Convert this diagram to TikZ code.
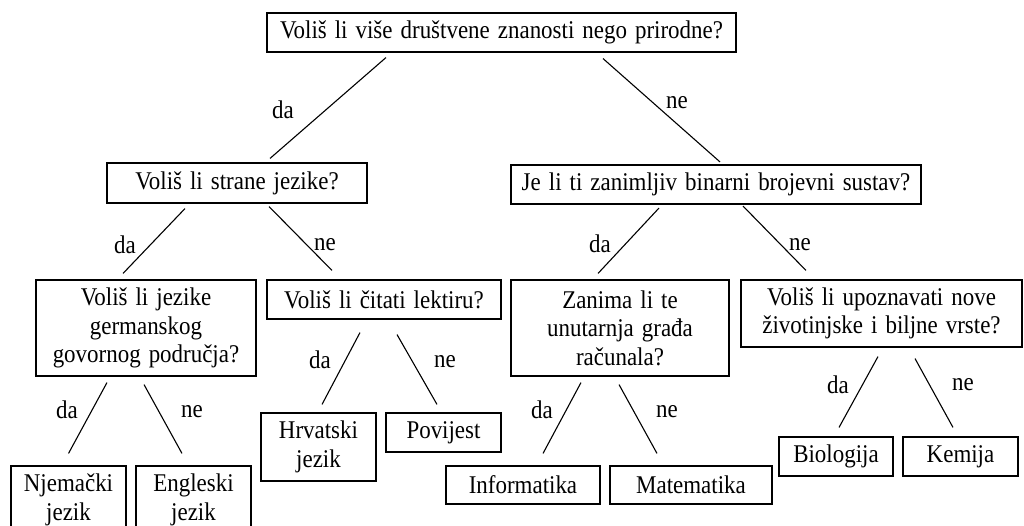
\documentclass[tikz,border=0pt]{standalone}
\usepackage{fontspec}
\setmainfont{Liberation Serif}[FakeStretch=0.9,WordSpace=1.4]
\newcommand{\fsz}{\fontsize{25.5}{28.5}\selectfont}
\begin{document}
\begin{tikzpicture}[x=1pt,y=-1pt,
  qbox/.style={draw, line width=1.1pt, inner sep=0pt, align=center, font=\fsz},
  lbl/.style={inner sep=0pt, font=\fsz},
  conn/.style={line width=1.1pt}]
\useasboundingbox (0,0) rectangle (1024,526);
\fill[white] (0,0) rectangle (1024,526);
\begin{scope}
\clip (0,0) rectangle (1024,526);
% question boxes
\node[qbox, minimum width=469pt, minimum height=39pt] (top) at (501.5,32.5) {Voliš li više društvene znanosti nego prirodne?};
\node[qbox, minimum width=260pt, minimum height=40pt] (strane) at (237,183) {Voliš li strane jezike?};
\node[qbox, minimum width=410pt, minimum height=39pt] (binarni) at (716,184.5) {Je li ti zanimljiv binarni brojevni sustav?};
\node[qbox, minimum width=220pt, minimum height=96pt] (germ) at (146,328) {Voliš li jezike\\germanskog\\govornog područja?};
\node[qbox, minimum width=234pt, minimum height=39pt] (lektiru) at (384,299.5) {Voliš li čitati lektiru?};
\node[qbox, minimum width=218pt, minimum height=96pt] (zanima) at (620,328) {Zanima li te\\unutarnja građa\\računala?};
\node[qbox, minimum width=281pt, minimum height=67pt] (upoz) at (881.5,313.5) {Voliš li upoznavati nove\\životinjske i biljne vrste?};
% answer boxes
\node[qbox, minimum width=115pt, minimum height=68pt] (njem) at (68.5,500) {Njemački\\jezik};
\node[qbox, minimum width=115pt, minimum height=68pt] (engl) at (193.5,500) {Engleski\\jezik};
\node[qbox, minimum width=115pt, minimum height=68pt] (hrv) at (318.5,447) {Hrvatski\\jezik};
\node[qbox, minimum width=115pt, minimum height=39pt] (pov) at (443.5,432.5) {Povijest};
\node[qbox, minimum width=154pt, minimum height=38pt] (info) at (523,485) {Informatika};
\node[qbox, minimum width=162pt, minimum height=38pt] (mat) at (691,485) {Matematika};
\node[qbox, minimum width=114pt, minimum height=39pt] (bio) at (836,456.5) {Biologija};
\node[qbox, minimum width=115pt, minimum height=39pt] (kem) at (960.5,456.5) {Kemija};
% connectors
\draw[conn] ([shift={(-115.5,5)}]top.south) -- ([shift={(33,-4)}]strane.north);
\draw[conn] ([shift={(101.5,6)}]top.south) -- ([shift={(4,-2.5)}]binarni.north);
\draw[conn] ([shift={(-52,5)}]strane.south) -- ([shift={(-23,-6)}]germ.north);
\draw[conn] ([shift={(32,3)}]strane.south) -- ([shift={(-52,-9)}]lektiru.north);
\draw[conn] ([shift={(-57,3.5)}]binarni.south) -- ([shift={(-22,-6)}]zanima.north);
\draw[conn] ([shift={(27,1.5)}]binarni.south) -- ([shift={(-75.5,-9)}]upoz.north);
\draw[conn] ([shift={(-39,6)}]germ.south) -- ([shift={(0,-12)}]njem.north);
\draw[conn] ([shift={(-2,8)}]germ.south) -- ([shift={(-11.5,-12)}]engl.north);
\draw[conn] ([shift={(-24,13)}]lektiru.south) -- ([shift={(3.5,-8)}]hrv.north);
\draw[conn] ([shift={(13,15)}]lektiru.south) -- ([shift={(-6.5,-8)}]pov.north);
\draw[conn] ([shift={(-39,6)}]zanima.south) -- ([shift={(20,-12)}]info.north);
\draw[conn] ([shift={(-1,8)}]zanima.south) -- ([shift={(-34,-12)}]mat.north);
\draw[conn] ([shift={(-3.5,9)}]upoz.south) -- ([shift={(3,-9)}]bio.north);
\draw[conn] ([shift={(33.5,11)}]upoz.south) -- ([shift={(-7.5,-9)}]kem.north);
% labels
\node[lbl] (l1) at (283,110) {da};
\node[lbl] (l2) at (677,103) {ne};
\node[lbl] (l3) at (125,245) {da};
\node[lbl] (l4) at (325,245) {ne};
\node[lbl] (l5) at (600,244) {da};
\node[lbl] (l6) at (800,245) {ne};
\node[lbl] (l7) at (67,410) {da};
\node[lbl] (l8) at (192,412) {ne};
\node[lbl] (l9) at (320,360) {da};
\node[lbl] (l10) at (445,362) {ne};
\node[lbl] (l11) at (542,410) {da};
\node[lbl] (l12) at (667,412) {ne};
\node[lbl] (l13) at (838,385) {da};
\node[lbl] (l14) at (963,385) {ne};
\end{scope}
\end{tikzpicture}
\end{document}
